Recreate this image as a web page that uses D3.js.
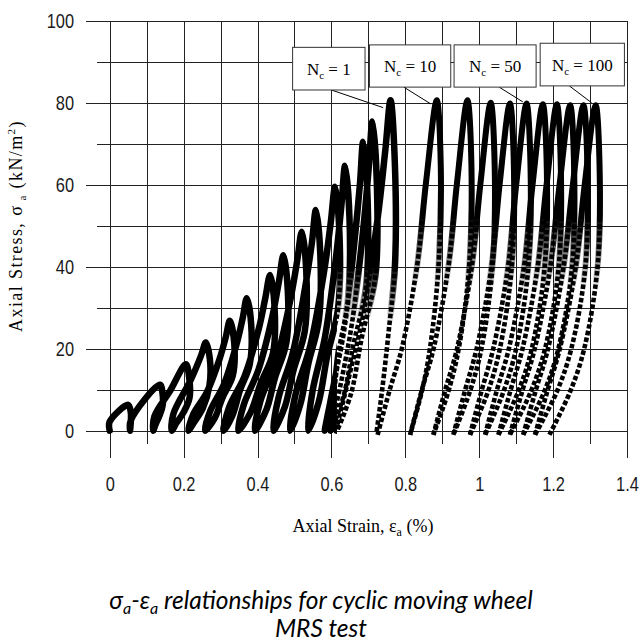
<!DOCTYPE html>
<html>
<head>
<meta charset="utf-8">
<script src="https://cdn.jsdelivr.net/npm/d3@7/dist/d3.min.js"></script>
<style>
  html, body { margin: 0; padding: 0; background: #fff; }
  svg { display: block; }
</style>
</head>
<body>
<svg id="chart" width="641" height="641"></svg>
<script>
// Axis ticks
const strainMajor = [0, 0.2, 0.4, 0.6, 0.8, 1, 1.2, 1.4];
const strainMinor = [0.1, 0.3, 0.5, 0.7, 0.9, 1.1, 1.3];
const stressMajor = [0, 20, 40, 60, 80, 100];
const stressMinor = [10, 30, 50, 70, 90];

// Cycle 1: staged loading, 15 sub-loops of increasing amplitude ([strain %, stress kN/m2])
const cycle1 = [
  [0,0],[0,2.2],[0.05,6.3],[0.057,4.5],[0.057,2],[0.055,0],
  [0.057,2.5],[0.136,11.2],[0.143,9],[0.143,6],[0.134,3.5],[0.124,1.5],[0.118,0],
  [0.121,3.5],[0.164,9.8],[0.206,16.2],[0.215,13],[0.216,8],[0.2,4.5],[0.18,1.8],[0.168,0],
  [0.172,4],[0.22,12.5],[0.248,18.5],[0.26,21.5],[0.271,17.5],[0.27,11],[0.252,5.5],[0.228,2],[0.213,0],
  [0.226,4],[0.263,9.4],[0.297,17.4],[0.314,22.8],[0.325,26.8],[0.337,21.4],[0.333,13.4],[0.305,8],[0.285,3.2],[0.258,0],
  [0.272,4.8],[0.309,11.3],[0.343,21],[0.36,27.5],[0.371,32.3],[0.383,25.8],[0.379,16.2],[0.352,9.7],[0.333,3.9],[0.308,0],
  [0.323,5.7],[0.365,13.3],[0.403,24.7],[0.421,32.3],[0.434,38],[0.446,30.4],[0.442,19],[0.408,11.4],[0.382,4.6],[0.348,0],
  [0.363,6.4],[0.403,15],[0.44,27.8],[0.458,36.4],[0.47,42.8],[0.482,34.2],[0.478,21.4],[0.447,12.8],[0.424,5.1],[0.393,0],
  [0.408,7.3],[0.45,17],[0.488,31.5],[0.507,41.2],[0.52,48.5],[0.532,38.8],[0.528,24.3],[0.497,14.6],[0.474,5.8],[0.443,0],
  [0.457,8.1],[0.495,18.8],[0.529,35],[0.547,45.7],[0.558,53.8],[0.57,43],[0.566,26.9],[0.537,16.1],[0.516,6.5],[0.488,0],
  [0.503,8.9],[0.543,20.8],[0.58,38.7],[0.598,50.6],[0.61,59.5],[0.622,47.6],[0.618,29.8],[0.588,17.9],[0.566,7.1],[0.537,0],
  [0.549,9.7],[0.582,22.6],[0.612,42],[0.627,54.9],[0.637,64.6],[0.649,51.7],[0.645,32.3],[0.62,19.4],[0.604,7.8],[0.582,0],
  [0.605,10.6],[0.635,24.7],[0.662,45.8],[0.677,59.9],[0.686,70.5],[0.698,56.4],[0.694,35.3],[0.66,21.2],[0.633,8.5],[0.598,0],
  [0.625,11.3],[0.656,26.4],[0.686,49],[0.701,64.1],[0.711,75.4],[0.723,60.3],[0.719,37.7],[0.682,22.6],[0.653,9],[0.614,0],
  [0.645,12.1],[0.686,28.2],[0.726,52.4],[0.746,68.5],[0.76,80.6],[0.772,64.5],[0.772,40.3],[0.755,24.2],[0.737,9.7],[0.722,-0.5]
];

// Later cycles: one full load-unload loop each
const cycle10 = [[0.725,-1],[0.757,9.7],[0.791,20.2],[0.832,40.3],[0.856,60.5],[0.885,80.6],[0.896,64.5],[0.89,40.3],[0.867,20.2],[0.845,9.7],[0.813,-1]];
const cycle20 = [[0.813,-1],[0.844,9.7],[0.877,20.2],[0.917,40.3],[0.94,60.5],[0.968,80.6],[0.979,64.5],[0.973,40.3],[0.945,20.2],[0.917,9.7],[0.876,-1]];
const cycle30 = [[0.876,-1],[0.907,9.6],[0.94,20],[0.98,40],[1.003,60],[1.031,80],[1.042,64],[1.036,40],[1.006,20],[0.975,9.6],[0.93,-1]];
const cycle40 = [[0.93,-1],[0.961,9.6],[0.993,20],[1.033,39.9],[1.055,59.9],[1.083,79.8],[1.094,63.8],[1.088,39.9],[1.056,20],[1.024,9.6],[0.975,-1]];
const cycle50 = [[0.975,-1],[1.006,9.6],[1.038,20],[1.078,39.9],[1.1,59.9],[1.128,79.8],[1.139,63.8],[1.133,39.9],[1.1,20],[1.066,9.6],[1.016,-1]];
const cycle60 = [[1.016,-1],[1.047,9.6],[1.08,19.9],[1.121,39.8],[1.144,59.7],[1.172,79.6],[1.183,63.7],[1.177,39.8],[1.142,19.9],[1.106,9.6],[1.052,-1]];
const cycle70 = [[1.052,-1],[1.084,9.6],[1.117,19.9],[1.158,39.8],[1.182,59.7],[1.21,79.6],[1.221,63.7],[1.215,39.8],[1.178,19.9],[1.14,9.6],[1.083,-1]];
const cycle80 = [[1.083,-1],[1.116,9.5],[1.15,19.9],[1.192,39.7],[1.217,59.6],[1.246,79.4],[1.257,63.5],[1.251,39.7],[1.214,19.9],[1.176,9.5],[1.119,-1]];
const cycle90 = [[1.119,-1],[1.152,9.5],[1.186,19.9],[1.228,39.7],[1.253,59.6],[1.282,79.4],[1.293,63.5],[1.287,39.7],[1.249,19.9],[1.21,9.5],[1.151,-1]];
const cycle100 = [[1.151,-1],[1.184,9.5],[1.218,19.9],[1.261,39.7],[1.285,59.6],[1.315,79.4],[1.326,63.5],[1.32,39.7],[1.284,19.9],[1.246,9.5],[1.19,-1]];
const laterCycles = [cycle10, cycle20, cycle30, cycle40, cycle50, cycle60, cycle70, cycle80, cycle90, cycle100];

// Cycle callouts: label, box [strain0, strain1, stress0, stress1], leader [strain, stress, strain, stress]
const noteLabels = ["1", "10", "50", "100"];
const noteBoxes = [[0.495,0.691,83.1,93.5],[0.703,0.923,83.8,94.1],[0.932,1.154,83.8,94.1],[1.165,1.393,84.1,94.5]];
const noteLeaders = [[0.6,83.1,0.74,78.8],[0.796,83.8,0.869,79.7],[1.054,83.8,1.118,80.2],[1.244,84.1,1.304,80]];

const svg = d3.select("#chart");
const x = d3.scaleLinear().domain([0, 1.4]).range([109.7, 627]);
const y = d3.scaleLinear().domain([0, 100]).range([430.7, 20.7]);
const gridColor = "#222";
const tickFont = "'Liberation Sans', Arial, sans-serif";
const narrow = 0.82; // condensed look for the tick numerals

// Horizontal grid (major lines carry labels and reach further left)
const yMajor = svg.append("g").attr("transform", "translate(86,0)")
  .call(d3.axisLeft(y).tickValues(stressMajor).tickSize(-(x(1.4) - 86)).tickPadding(12).tickFormat(d3.format("d")));
const yMinor = svg.append("g").attr("transform", "translate(97,0)")
  .call(d3.axisLeft(y).tickValues(stressMinor).tickSize(-(x(1.4) - 97)).tickFormat(""));
// Vertical grid (major lines reach further down)
const xMajor = svg.append("g").attr("transform", "translate(0,458)")
  .call(d3.axisBottom(x).tickValues(strainMajor).tickSize(-(458 - y(100))).tickPadding(18.5).tickFormat(d3.format("~g")));
const xMinor = svg.append("g").attr("transform", "translate(0,444)")
  .call(d3.axisBottom(x).tickValues(strainMinor).tickSize(-(444 - y(100))).tickFormat(""));

[yMajor, yMinor, xMajor, xMinor].forEach(g => {
  g.select(".domain").remove();
  g.selectAll(".tick line").attr("stroke", gridColor).attr("stroke-width", 1).attr("shape-rendering", "crispEdges");
  g.selectAll(".tick text").attr("fill", "#1a1a1a").style("font-family", tickFont).style("font-size", "20px");
});
yMajor.selectAll(".tick text").attr("x", -12 / narrow).attr("transform", `scale(${narrow},1)`);
xMajor.selectAll(".tick text").attr("transform", `scale(${narrow},1)`);

// Stress-strain loops
const line = d3.line()
  .x(d => x(d[0]))
  .y(d => y(d[1]))
  .curve(d3.curveCatmullRom.alpha(0.5));

// Fade from beaded (low stress) to solid (high stress)
const defs = svg.append("defs");
const grad = defs.append("linearGradient").attr("id", "fadeUp")
  .attr("gradientUnits", "userSpaceOnUse")
  .attr("x1", 0).attr("x2", 0).attr("y1", y(52)).attr("y2", y(34));
grad.append("stop").attr("offset", 0).attr("stop-color", "#fff");
grad.append("stop").attr("offset", 1).attr("stop-color", "#000");
defs.append("mask").attr("id", "upper").attr("maskUnits", "userSpaceOnUse")
  .attr("x", 0).attr("y", 0).attr("width", 641).attr("height", 641)
  .append("rect").attr("x", 0).attr("y", 0).attr("width", 641).attr("height", 641)
  .attr("fill", "url(#fadeUp)");

// Cycle 1: solid everywhere except the low part of its last sub-loops
const grad1 = defs.append("linearGradient").attr("id", "fadeUp1")
  .attr("gradientUnits", "userSpaceOnUse")
  .attr("x1", 0).attr("x2", 0).attr("y1", y(40)).attr("y2", y(26));
grad1.append("stop").attr("offset", 0).attr("stop-color", "#fff");
grad1.append("stop").attr("offset", 1).attr("stop-color", "#000");
const mask1 = defs.append("mask").attr("id", "cycle1Mask").attr("maskUnits", "userSpaceOnUse")
  .attr("x", 0).attr("y", 0).attr("width", 641).attr("height", 641);
mask1.append("rect").attr("x", 0).attr("y", 0).attr("width", 641).attr("height", 641).attr("fill", "#fff");
mask1.append("rect").attr("x", x(0.615)).attr("y", 0).attr("width", 641 - x(0.615)).attr("height", 641)
  .attr("fill", "url(#fadeUp1)");

const later = svg.append("g");
later.selectAll("path.dotted").data(laterCycles).join("path")
  .attr("class", "dotted")
  .attr("d", line)
  .attr("fill", "none")
  .attr("stroke", "#000")
  .attr("stroke-width", 4.6)
  .attr("stroke-dasharray", "4.5 2.2")
  .attr("stroke-linejoin", "round");
later.selectAll("path.solid").data(laterCycles).join("path")
  .attr("class", "solid")
  .attr("d", line)
  .attr("mask", "url(#upper)")
  .attr("fill", "none")
  .attr("stroke", "#000")
  .attr("stroke-width", 6)
  .attr("stroke-linejoin", "round");

const first = svg.append("g");
first.append("path")
  .attr("d", line(cycle1))
  .attr("fill", "none")
  .attr("stroke", "#000")
  .attr("stroke-width", 4.6)
  .attr("stroke-dasharray", "4.5 2.2");
first.append("path")
  .attr("d", line(cycle1))
  .attr("mask", "url(#cycle1Mask)")
  .attr("fill", "none")
  .attr("stroke", "#000")
  .attr("stroke-width", 6.5)
  .attr("stroke-linejoin", "round")
  .attr("stroke-linecap", "round");

// Cycle callouts
const notes = svg.append("g");
noteLabels.forEach((lab, i) => {
  const b = noteBoxes[i], l = noteLeaders[i];
  notes.append("line")
    .attr("x1", x(l[0])).attr("y1", y(l[1])).attr("x2", x(l[2])).attr("y2", y(l[3]))
    .attr("stroke", "#000").attr("stroke-width", 1);
  notes.append("rect")
    .attr("x", x(b[0])).attr("y", y(b[3]))
    .attr("width", x(b[1]) - x(b[0])).attr("height", y(b[2]) - y(b[3]))
    .attr("fill", "#fff").attr("stroke", "#333").attr("stroke-width", 1);
  const t = notes.append("text")
    .attr("x", (x(b[0]) + x(b[1])) / 2)
    .attr("y", (y(b[2]) + y(b[3])) / 2 + 6)
    .attr("text-anchor", "middle")
    .style("font-family", "'Liberation Serif', 'Times New Roman', serif")
    .style("font-size", "17px");
  t.append("tspan").text("N");
  t.append("tspan").attr("dy", 4).style("font-size", "11px").text("c");
  t.append("tspan").attr("dy", -4).text(" = " + lab);
});

// Axis titles
const yTitle = svg.append("text")
  .attr("transform", "translate(22,226) rotate(-90)")
  .attr("text-anchor", "middle")
  .style("font-family", "'Liberation Serif', 'Times New Roman', serif")
  .style("font-size", "18px")
  .style("letter-spacing", "1.4px");
yTitle.append("tspan").text("Axial Stress, σ");
yTitle.append("tspan").attr("dy", 4).style("font-size", "11px").text(" a");
yTitle.append("tspan").attr("dy", -4).text(" (kN/m");
yTitle.append("tspan").attr("dy", -7).style("font-size", "11px").text("2");
yTitle.append("tspan").attr("dy", 7).text(")");

const xTitle = svg.append("text")
  .attr("x", 363).attr("y", 532)
  .attr("text-anchor", "middle")
  .style("font-family", "'Liberation Serif', 'Times New Roman', serif")
  .style("font-size", "18px");
xTitle.append("tspan").text("Axial Strain, ε");
xTitle.append("tspan").attr("dy", 4).style("font-size", "12px").text("a");
xTitle.append("tspan").attr("dy", -4).text(" (%)");

// Caption
const capFont = "Lato, 'Open Sans', sans-serif";
const cap1 = svg.append("text")
  .attr("x", 321).attr("y", 609)
  .attr("text-anchor", "middle")
  .style("font-family", capFont).style("font-style", "italic").style("font-size", "24.5px");
cap1.append("tspan").text("σ");
cap1.append("tspan").attr("dy", 5).style("font-size", "16px").text("a");
cap1.append("tspan").attr("dy", -5).text("-ε");
cap1.append("tspan").attr("dy", 5).style("font-size", "16px").text("a");
cap1.append("tspan").attr("dy", -5).text(" relationships for cyclic moving wheel");
svg.append("text")
  .attr("x", 321).attr("y", 637)
  .attr("text-anchor", "middle")
  .style("font-family", capFont).style("font-style", "italic").style("font-size", "24.5px")
  .text("MRS test");
</script>
</body>
</html>
